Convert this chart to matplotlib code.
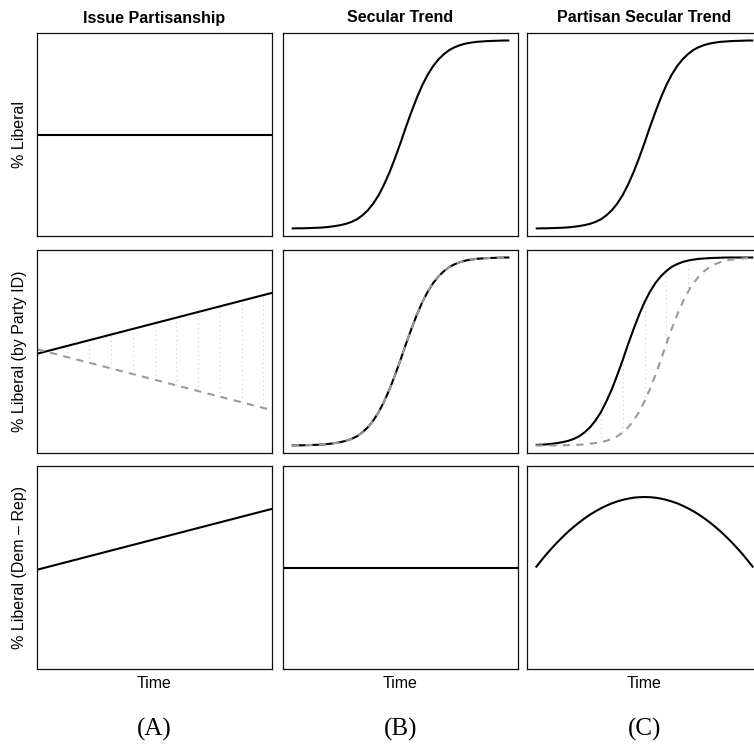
import numpy as np
import matplotlib
matplotlib.use("Agg")
import matplotlib.pyplot as plt

# ---- data -------------------------------------------------------------
column_titles = ["Issue Partisanship", "Secular Trend", "Partisan Secular Trend"]
row_labels = ["% Liberal", "% Liberal (by Party ID)", "% Liberal (Dem \u2013 Rep)"]
panel_tags = ["(A)", "(B)", "(C)"]
x_label = "Time"

# Issue partisanship: linear divergence of the two parties
time_issue = [0.0, 0.1, 0.2, 0.3, 0.4, 0.5, 0.6, 0.7, 0.8, 0.9, 1.0]
overall_issue = [0.50, 0.50, 0.50, 0.50, 0.50, 0.50, 0.50, 0.50, 0.50, 0.50, 0.50]
dem_issue = [0.50, 0.53, 0.56, 0.59, 0.62, 0.65, 0.68, 0.71, 0.74, 0.77, 0.80]
rep_issue = [0.50, 0.47, 0.44, 0.41, 0.38, 0.35, 0.32, 0.29, 0.26, 0.23, 0.20]
diff_issue = [0.00, 0.06, 0.12, 0.18, 0.24, 0.30, 0.36, 0.42, 0.48, 0.54, 0.60]

# Secular trends sampled every 0.025 of the time span
time_trend = np.linspace(0.0, 1.0, 41)
overall_trend = [0.000, 0.001, 0.001, 0.002, 0.003, 0.004, 0.006, 0.009, 0.013, 0.018,
                 0.025, 0.035, 0.049, 0.070, 0.097, 0.133, 0.178, 0.235, 0.300, 0.375,
                 0.455, 0.540, 0.620, 0.695, 0.762, 0.818, 0.864, 0.900, 0.928, 0.950,
                 0.965, 0.976, 0.984, 0.989, 0.993, 0.995, 0.997, 0.998, 0.999, 1.000,
                 1.000]
diff_secular = [0.0, 0.0]
time_secular_diff = [0.0, 1.0]

dem_partisan = [0.003, 0.004, 0.006, 0.009, 0.013, 0.018, 0.025, 0.035, 0.049, 0.070,
                0.097, 0.133, 0.178, 0.235, 0.300, 0.375, 0.455, 0.540, 0.620, 0.695,
                0.762, 0.818, 0.864, 0.900, 0.928, 0.950, 0.965, 0.976, 0.984, 0.989,
                0.993, 0.995, 0.997, 0.998, 0.999, 1.000, 1.000, 1.000, 1.000, 1.000,
                1.000]
rep_partisan = [0.000, 0.000, 0.000, 0.000, 0.001, 0.001, 0.002, 0.003, 0.004, 0.006,
                0.009, 0.013, 0.018, 0.025, 0.035, 0.049, 0.070, 0.097, 0.133, 0.178,
                0.235, 0.300, 0.375, 0.455, 0.540, 0.620, 0.695, 0.762, 0.818, 0.864,
                0.900, 0.928, 0.950, 0.965, 0.976, 0.984, 0.989, 0.993, 0.995, 0.997,
                0.999]
diff_partisan = [0.000, 0.073, 0.143, 0.208, 0.270, 0.328, 0.383, 0.433, 0.480, 0.523,
                 0.563, 0.598, 0.630, 0.658, 0.683, 0.703, 0.720, 0.733, 0.743, 0.748,
                 0.750, 0.748, 0.743, 0.733, 0.720, 0.703, 0.683, 0.658, 0.630, 0.598,
                 0.563, 0.523, 0.480, 0.433, 0.383, 0.328, 0.270, 0.208, 0.143, 0.073,
                 0.000]

# ---- styling ----------------------------------------------------------
plt.rcParams["font.family"] = ["Liberation Sans", "DejaVu Sans"]
W, H = 754, 749
fig = plt.figure(figsize=(W / 100, H / 100), dpi=100)

col_left = [37, 283, 527]
row_top = [33, 250, 466]
pw, ph = 235, 203

SOLID = dict(color="black", lw=1.5, solid_capstyle="butt")
DASHED = dict(color="#9a9a9a", lw=1.5, ls=(0, (3.5, 3)))
DOTTED = dict(color="#cfcfcf", lw=0.8, ls=(0, (1, 3)))


def make_axes(r, c):
    rect = [col_left[c] / W, 1 - (row_top[r] + ph) / H, pw / W, ph / H]
    ax = fig.add_axes(rect)
    ax.set_xticks([])
    ax.set_yticks([])
    for s in ax.spines.values():
        s.set_linewidth(0.9)
        s.set_color("#111111")
    ax.set_xlim(-0.04, 1.04)
    if r < 2:
        ax.set_ylim(-0.04, 1.04)
    else:
        ax.set_ylim(-1.08, 1.08)
    return ax


axes = [[make_axes(r, c) for c in range(3)] for r in range(3)]

# Column A: issue partisanship
ax = axes[0][0]
ax.axline((time_issue[0], overall_issue[0]), (time_issue[-1], overall_issue[-1]), **SOLID)
ax = axes[1][0]
ax.vlines(time_issue, rep_issue, dem_issue, **DOTTED)
ax.axline((time_issue[0], dem_issue[0]), (time_issue[-1], dem_issue[-1]), **SOLID)
ax.axline((time_issue[0], rep_issue[0]), (time_issue[-1], rep_issue[-1]), **DASHED)
ax = axes[2][0]
ax.axline((time_issue[0], diff_issue[0]), (time_issue[-1], diff_issue[-1]), **SOLID)

# Column B: secular trend
axes[0][1].plot(time_trend, overall_trend, **SOLID)
axes[1][1].plot(time_trend, overall_trend, **SOLID)
axes[1][1].plot(time_trend, overall_trend, **DASHED)
axes[2][1].axline((time_secular_diff[0], diff_secular[0]),
                  (time_secular_diff[1], diff_secular[1]), **SOLID)

# Column C: partisan secular trend
axes[0][2].plot(time_trend, overall_trend, **SOLID)
ax = axes[1][2]
ax.vlines(time_trend[::4], np.asarray(rep_partisan)[::4], np.asarray(dem_partisan)[::4], **DOTTED)
ax.plot(time_trend, dem_partisan, **SOLID)
ax.plot(time_trend, rep_partisan, **DASHED)
axes[2][2].plot(time_trend, diff_partisan, **SOLID)

# ---- text -------------------------------------------------------------
for c in range(3):
    cx = (col_left[c] + pw / 2) / W
    fig.text(cx, 1 - 18 / H, column_titles[c], ha="center", va="center",
             fontsize=11.5, fontweight="bold")
    fig.text(cx, 1 - 684 / H, x_label, ha="center", va="center", fontsize=11.5)
    fig.text(cx, 1 - 729 / H, panel_tags[c], ha="center", va="center",
             fontsize=18, family=["Liberation Serif", "DejaVu Serif"])

for r in range(3):
    cy = 1 - (row_top[r] + ph / 2) / H
    fig.text(20 / W, cy, row_labels[r], ha="center", va="center", rotation=90,
             fontsize=11.5)

fig.savefig("out.png", dpi=100)
